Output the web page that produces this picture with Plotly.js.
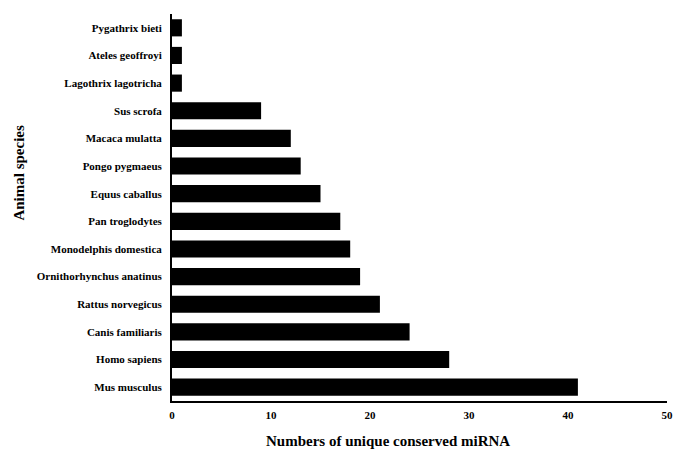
<!DOCTYPE html>
<html>
<head>
<meta charset="utf-8">
<script src="https://cdn.plot.ly/plotly-3.0.1.min.js"></script>
<style>html,body{margin:0;padding:0;background:#fff;}</style>
</head>
<body>
<div id="chart" style="width:685px;height:449px;"></div>
<script>
const species = ["Pygathrix bieti","Ateles geoffroyi","Lagothrix lagotricha","Sus scrofa","Macaca mulatta","Pongo pygmaeus","Equus caballus","Pan troglodytes","Monodelphis domestica","Ornithorhynchus anatinus","Rattus norvegicus","Canis familiaris","Homo sapiens","Mus musculus"];
const counts = [1,1,1,9,12,13,15,17,18,19,21,24,28,41];
const xTicks = [0,10,20,30,40,50];
const xTitle = "Numbers of unique conserved miRNA";
const yTitle = "Animal species";

const font = "'Liberation Serif','Times New Roman',serif";
const trace = {
  type: "bar",
  orientation: "h",
  y: species,
  x: counts,
  width: 0.62,
  marker: {color: "#000000", line: {width: 0}},
  hoverinfo: "x+y"
};
const layout = {
  width: 685, height: 449,
  margin: {l: 172, r: 18, t: 14, b: 48},
  paper_bgcolor: "#fff", plot_bgcolor: "#fff",
  showlegend: false,
  font: {family: font, color: "#000", size: 11},
  xaxis: {
    range: [0, 50], tickvals: xTicks, ticktext: xTicks.map(String),
    showgrid: false, zeroline: false, showline: true, linecolor: "#000", linewidth: 2,
    ticks: "", ticklabelstandoff: 3, tickfont: {family: font, size: 11, weight: "bold"}
  },
  yaxis: {
    autorange: "reversed", categoryorder: "array", categoryarray: species,
    range: [13.5, -0.5],
    showgrid: false, zeroline: false, showline: true, linecolor: "#000", linewidth: 2,
    ticks: "", ticklabelstandoff: 6, tickfont: {family: font, size: 11, weight: "bold"}
  },
  annotations: [
    {text: "<b>" + xTitle + "</b>", xref: "paper", yref: "paper", x: 0.437, y: -0.078,
     xanchor: "center", yanchor: "top", showarrow: false, font: {family: font, size: 15}},
    {text: "<b>" + yTitle + "</b>", xref: "paper", yref: "paper", x: -0.308, y: 0.589,
     xanchor: "center", yanchor: "middle", textangle: -90, showarrow: false, font: {family: font, size: 15}}
  ]
};
Plotly.newPlot("chart", [trace], layout, {displayModeBar: false, staticPlot: true});
</script>
</body>
</html>
